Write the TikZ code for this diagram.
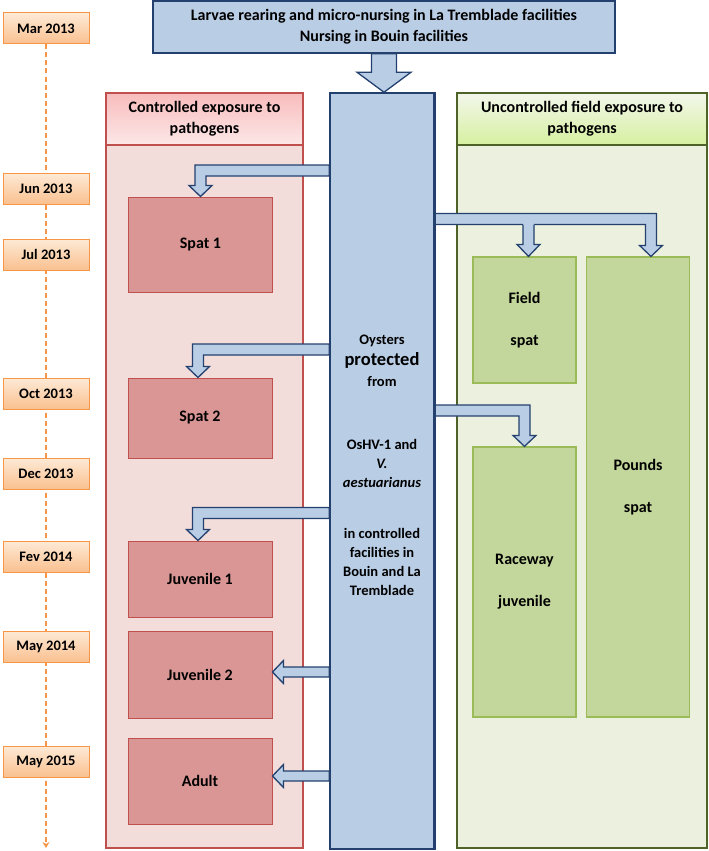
\documentclass[tikz,border=0pt]{standalone}
\usepackage{fontspec}
\setmainfont{Carlito}
\usetikzlibrary{calc}
\usetikzlibrary{arrows.meta}
\usetikzlibrary{backgrounds}
\definecolor{date-orange}{RGB}{247,150,70}
\definecolor{date-light}{RGB}{253,234,214}
\definecolor{date-fill}{RGB}{250,192,143}
\definecolor{ctrl-red}{RGB}{192,80,77}
\definecolor{ctrl-pale}{RGB}{242,221,219}
\definecolor{ctrl-box}{RGB}{217,150,148}
\definecolor{ctrl-head}{RGB}{248,188,188}
\definecolor{prot-blue}{RGB}{185,205,229}
\definecolor{prot-dark}{RGB}{36,64,110}
\definecolor{field-dark}{RGB}{79,98,40}
\definecolor{field-pale}{RGB}{235,241,222}
\definecolor{field-box}{RGB}{195,214,155}
\definecolor{field-line}{RGB}{155,187,89}
\definecolor{field-head}{RGB}{214,240,160}

\newcommand{\bentarrow}[2]{%
  \filldraw[blockarrow] let \p1=#1, \p2=#2, \n1={sign(\x2-\x1)} in
    (\x1,\y1+5.5pt) -- ({\x2+\n1*5.5pt},\y1+5.5pt) -- ({\x2+\n1*5.5pt},\y2+11pt)
    -- ({\x2+\n1*11.5pt},\y2+11pt) -- (\x2,\y2) -- ({\x2-\n1*11.5pt},\y2+11pt)
    -- ({\x2-\n1*5.5pt},\y2+11pt) -- ({\x2-\n1*5.5pt},\y1-5.5pt) -- (\x1,\y1-5.5pt) -- cycle;}
\newcommand{\dropbranch}[2]{%
  \fill[prot-blue] let \p1=#1, \p2=#2 in
    (\x2-5.5pt,\y1) -- (\x2-5.5pt,\y2+12pt) -- (\x2-11.5pt,\y2+12pt) -- (\x2,\y2)
    -- (\x2+11.5pt,\y2+12pt) -- (\x2+5.5pt,\y2+12pt) -- (\x2+5.5pt,\y1) -- cycle;
  \draw[blockarrow] let \p1=#1, \p2=#2 in
    (\x2-5.5pt,\y1-5.5pt) -- (\x2-5.5pt,\y2+12pt) -- (\x2-11.5pt,\y2+12pt) -- (\x2,\y2)
    -- (\x2+11.5pt,\y2+12pt) -- (\x2+5.5pt,\y2+12pt) -- (\x2+5.5pt,\y1-5.5pt);}
\newcommand{\sidearrow}[2]{%
  \filldraw[blockarrow] let \p1=#1, \p2=#2 in
    (\x1,\y1+5pt) -- (\x2+11pt,\y1+5pt) -- (\x2+11pt,\y1+11.5pt) -- (\x2,\y1)
    -- (\x2+11pt,\y1-11.5pt) -- (\x2+11pt,\y1-5pt) -- (\x1,\y1-5pt) -- cycle;}

\begin{document}
\begin{tikzpicture}[x=1pt,y=-1pt,
    font=\fontsize{16}{21}\selectfont\bfseries,
    datebox/.style={draw=date-orange, line width=1pt, top color=date-light, bottom color=date-fill,
      minimum width=86, minimum height=31, inner sep=0pt, font=\fontsize{14.5}{19}\selectfont\bfseries},
    ctrlpanel/.style={draw=ctrl-red, line width=1.2pt, fill=ctrl-pale, minimum width=197, inner sep=0pt},
    ctrlhead/.style={draw=ctrl-red, line width=1.2pt, top color=ctrl-head, bottom color=ctrl-head!35!white,
      minimum width=197, minimum height=52, align=center, inner sep=0pt},
    ctrlbox/.style={draw=ctrl-red, line width=1pt, fill=ctrl-box, minimum width=144, inner sep=0pt},
    fieldpanel/.style={draw=field-dark, line width=1.2pt, fill=field-pale, minimum width=250, inner sep=0pt},
    fieldhead/.style={draw=field-dark, line width=1.2pt, top color=field-pale!60!white, bottom color=field-head,
      minimum width=250, minimum height=52, align=center, inner sep=0pt},
    fieldbox/.style={draw=field-line, line width=1.2pt, fill=field-box, minimum width=103, align=center, inner sep=0pt},
    protbox/.style={draw=prot-dark, line width=1.5pt, fill=prot-blue, inner sep=0pt},
    blockarrow/.style={draw=prot-dark, line width=1.3pt, fill=prot-blue, line join=miter},
    coltext/.style={align=center, inner sep=0pt, font=\fontsize{14.5}{19}\selectfont\bfseries}]
\useasboundingbox (0,0) rectangle (709,851);

\foreach \d/\y [count=\i] in {Mar 2013/28.5, Jun 2013/188.5, Jul 2013/254.5, Oct 2013/393.5,
    Dec 2013/473.5, Fev 2014/556.5, May 2014/646.5, May 2015/761.5}
  \node[datebox] (d\i) at (46,\y) {\d};
\coordinate (tend) at (46,848);
\begin{scope}[on background layer]
\draw[date-orange, line width=1.2pt, dash pattern=on 5pt off 3pt, -{Stealth[length=6pt,width=7pt]}] (d1.south) -- (tend);
\end{scope}

\node[protbox, minimum width=462, minimum height=52, align=center] (top) at (384,27)
  {Larvae rearing and micro-nursing in La Tremblade facilities\\Nursing in Bouin facilities};

\node[ctrlpanel, minimum height=755] (ctrl) at (204.5,470.5) {};
\node[ctrlhead] (ctrlhd) at (204.5,119) {Controlled exposure to\\pathogens};
\node[ctrlbox, minimum height=95] (spat1) at (200.5,244.5) {Spat 1};
\node[ctrlbox, minimum height=80] (spat2) at (200,418) {Spat 2};
\node[ctrlbox, minimum height=76] (juv1) at (200,579) {Juvenile 1};
\node[ctrlbox, minimum height=87] (juv2) at (200,674.5) {Juvenile 2};
\node[ctrlbox, minimum height=86] (adult) at (200,781) {Adult};

\node[fieldpanel, minimum height=755] (field) at (582,470.5) {};
\node[fieldhead] (fieldhd) at (582,119) {Uncontrolled field exposure to\\pathogens};
\node[fieldbox, minimum height=126] (fspat) at (524.5,320) {Field\\[21pt]spat};
\node[fieldbox, minimum height=460] (pounds) at (638,487) {Pounds\\[21pt]spat};
\node[fieldbox, minimum height=270] (raceway) at (524.5,582) {Raceway\\[21pt]juvenile};

\node[protbox, minimum width=104, minimum height=756] (col) at (382,471) {};

\filldraw[blockarrow] let \p1=(top.south), \p2=(col.north) in
  (\x1-12.5pt,\y1) -- (\x1-12.5pt,\y2+20pt) -- (\x1-27pt,\y2+20pt) -- (\x1,\y2)
  -- (\x1+27pt,\y2+20pt) -- (\x1+12.5pt,\y2+20pt) -- (\x1+12.5pt,\y1) -- cycle;

\bentarrow{(col.west |- 0,170.5)}{(spat1.north)}
\bentarrow{(col.west |- 0,349.5)}{([xshift=-2pt]spat2.north)}
\bentarrow{(col.west |- 0,513)}{([xshift=-2pt]juv1.north)}
\sidearrow{(col.west |- 0,672)}{(juv2.east |- 0,672)}
\sidearrow{(col.west |- 0,776)}{(adult.east |- 0,776)}

\bentarrow{(col.east |- 0,219)}{([xshift=13pt]pounds.north)}
\dropbranch{(fspat.north |- 0,219)}{([xshift=4pt]fspat.north)}
\bentarrow{(col.east |- 0,410.5)}{(raceway.north)}

\draw[prot-dark, line width=1.5pt] (col.north west) -- (col.south west) (col.north east) -- (col.south east);

\node[coltext, font=\fontsize{14.5}{21}\selectfont\bfseries] (colA) at (382,361)
  {Oysters\\{\fontsize{18.5}{21}\selectfont protected}\\from};
\node[coltext] (colB) at (382,463) {OsHV-1 and\\\textit{V.}\\\textit{aestuarianus}};
\node[coltext] (colC) at (382,561.5) {in controlled\\facilities in\\Bouin and La\\Tremblade};
\end{tikzpicture}
\end{document}
